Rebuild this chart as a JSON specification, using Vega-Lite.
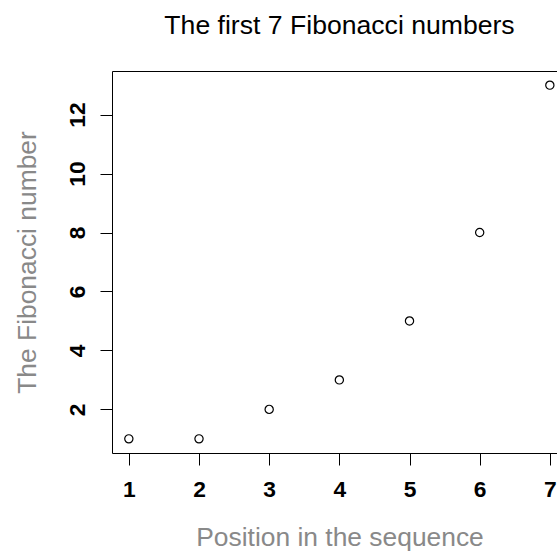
{
  "$schema": "https://vega.github.io/schema/vega-lite/v6.json",
  "autosize": {"type": "none"},
  "padding": {"left": 112, "top": 71, "right": 0, "bottom": 99},
  "width": 445,
  "height": 382,
  "background": "white",
  "config": {
    "font": "Liberation Sans",
    "view": {"stroke": null},
    "axis": {"grid": false, "tickColor": "black", "tickWidth": 1, "tickSize": 12, "domainColor": "black", "domainWidth": 1, "labelColor": "black", "labelFont": "Liberation Sans", "labelFontWeight": "bold", "labelFontSize": 22.8, "titleFont": "Liberation Sans", "titleFontWeight": "normal", "titleFontSize": 26.4, "titleColor": "#898989"}
  },
  "title": {"text": "The first 7 Fibonacci numbers", "font": "Liberation Sans", "fontSize": 26.6, "fontWeight": "normal", "color": "black", "frame": "group", "anchor": "middle", "dx": 5, "baseline": "alphabetic", "offset": 10.5},
  "data": {"values": [
    {"position": 1, "fib": 1},
    {"position": 2, "fib": 1},
    {"position": 3, "fib": 2},
    {"position": 4, "fib": 3},
    {"position": 5, "fib": 5},
    {"position": 6, "fib": 8},
    {"position": 7, "fib": 13}
  ]},
  "resolve": {"axis": {"x": "independent"}},
  "layer": [
    {
      "mark": {"type": "point", "filled": false, "stroke": "black", "strokeWidth": 1.2, "size": 68, "opacity": 1},
      "encoding": {
        "x": {"field": "position", "type": "quantitative", "scale": {"domain": [0.76, 7.102], "nice": false, "zero": false},
          "axis": {"orient": "bottom", "values": [1, 2, 3, 4, 5, 6, 7], "title": "Position in the sequence", "labelPadding": 31.6, "labelBaseline": "alphabetic", "labelAlign": "center", "labelFlush": false, "labelOverlap": false, "titleX": 227.5, "titleY": 92, "titleBaseline": "alphabetic", "titleAnchor": null, "domain": true}},
        "y": {"field": "fib", "type": "quantitative", "scale": {"domain": [0.52, 13.48], "nice": false, "zero": false},
          "axis": {"orient": "left", "values": [2, 4, 6, 8, 10, 12], "title": "The Fibonacci number", "labelAngle": 270, "labelAlign": "center", "labelBaseline": "alphabetic", "labelPadding": 15.5, "labelFlush": false, "labelOverlap": false, "titleAngle": 270, "titleX": -76.8, "titleY": 191, "titleBaseline": "alphabetic", "titleAlign": "center", "domain": true}}
      }
    },
    {
      "mark": {"type": "point", "opacity": 0},
      "encoding": {
        "x": {"field": "position", "type": "quantitative", "scale": {"domain": [0.76, 7.102], "nice": false, "zero": false},
          "axis": {"orient": "top", "ticks": false, "labels": false, "title": null, "domain": true}}
      }
    }
  ]
}
